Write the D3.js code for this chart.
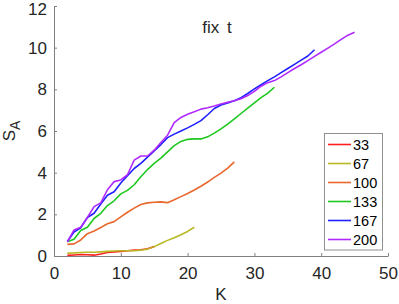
<!DOCTYPE html>
<html><head><meta charset="utf-8">
<script src="https://cdn.jsdelivr.net/npm/d3@7"></script>
<style>body{margin:0;background:#fff}svg{display:block}text{font-family:"Liberation Sans",Arial,Helvetica,sans-serif}</style>
</head><body><svg id="c" width="399" height="304"></svg>
<script>
const seriesNames = ["33","67","100","133","167","200"];
const colors = ["#ff1f1f","#b8b822","#e8682e","#1ec81e","#1f1fff","#b02aff"];
const xTicks = [0,10,20,30,40,50];
const yTicks = [0,2,4,6,8,10,12];
const k33 = [2,3,4,5,6,7,8,9,10,11,12,13,14,15];
const s33 = [0.03,0.05,0.07,0.06,0.04,0.1,0.17,0.2,0.22,0.25,0.28,0.3,0.35,0.45];
const k67 = [2,3,4,5,6,7,8,9,10,11,12,13,14,15,16,17,18,19,20,21];
const s67 = [0.14,0.15,0.17,0.18,0.18,0.2,0.22,0.24,0.25,0.25,0.25,0.28,0.33,0.45,0.6,0.75,0.88,1.02,1.18,1.38];
const k100 = [2,3,4,5,6,7,8,9,10,11,12,13,14,15,16,17,18,19,20,21,22,23,24,25,26,27];
const s100 = [0.56,0.58,0.77,1.07,1.2,1.37,1.55,1.65,1.88,2.1,2.3,2.47,2.55,2.58,2.6,2.56,2.7,2.85,3.0,3.17,3.35,3.55,3.77,3.98,4.22,4.52];
const k133 = [2,3,4,5,6,7,8,9,10,11,12,13,14,15,16,17,18,19,20,21,22,23,24,25,26,27,28,29,30,31,32,33];
const s133 = [0.68,0.8,1.22,1.38,1.8,2.05,2.42,2.65,2.98,3.15,3.42,3.8,4.15,4.45,4.7,5.0,5.3,5.5,5.6,5.62,5.62,5.72,5.9,6.1,6.33,6.58,6.84,7.1,7.35,7.6,7.82,8.1];
const k167 = [2,3,4,5,6,7,8,9,10,11,12,13,14,15,16,17,18,19,20,21,22,23,24,25,26,27,28,29,30,31,32,33,34,35,36,37,38,39];
const s167 = [0.7,1.15,1.35,1.85,2.05,2.5,2.92,3.08,3.5,3.85,4.2,4.45,4.75,5.05,5.35,5.68,5.85,6.0,6.15,6.32,6.5,6.78,7.08,7.25,7.35,7.45,7.6,7.8,8.02,8.22,8.42,8.6,8.8,9.0,9.2,9.4,9.6,9.9];
const k200 = [2,3,4,5,6,7,8,9,10,11,12,13,14,15,16,17,18,19,20,21,22,23,24,25,26,27,28,29,30,31,32,33,34,35,36,37,38,39,40,41,42,43,44,45];
const s200 = [0.68,1.25,1.38,1.85,2.37,2.55,3.18,3.57,3.65,3.9,4.6,4.8,4.8,5.08,5.45,5.8,6.4,6.65,6.8,6.92,7.05,7.12,7.2,7.3,7.38,7.45,7.55,7.7,7.9,8.15,8.32,8.42,8.6,8.8,9.0,9.18,9.38,9.58,9.78,9.98,10.18,10.4,10.6,10.74];
const kData = [k33,k67,k100,k133,k167,k200];
const sData = [s33,s67,s100,s133,s167,s200];

const svg = d3.select("#c");
const x = d3.scaleLinear().domain([0,50]).range([54,388]);
const y = d3.scaleLinear().domain([0,12]).range([256,6]);
const axisCol = "#808080", txtCol = "#262626";

const gx = svg.append("g").attr("transform","translate(0,256)")
  .call(d3.axisBottom(x).tickValues(xTicks).tickSizeInner(-3).tickSizeOuter(0).tickPadding(11));
const gy = svg.append("g").attr("transform","translate(54,0)")
  .call(d3.axisLeft(y).tickValues(yTicks).tickSizeInner(-3).tickSizeOuter(0).tickPadding(7));
[gx,gy].forEach(g=>{
  g.select(".domain").attr("stroke",axisCol).attr("stroke-width",1);
  g.selectAll(".tick line").attr("stroke",axisCol);
  g.selectAll(".tick text").attr("fill",txtCol).style("font-size","17px").style("font-family",'"Liberation Sans",Arial,sans-serif');
});
gy.selectAll(".tick text").filter(d=>d===12).attr("dy","0.47em");

const line = d3.line().x(d=>x(d[0])).y(d=>y(d[1])).curve(d3.curveLinear);
kData.forEach((ks,i)=>{
  svg.append("path").datum(ks.map((k,j)=>[k,sData[i][j]]))
    .attr("d",line).attr("fill","none").attr("stroke",colors[i])
    .attr("stroke-width",1.6).attr("stroke-linejoin","round");
});

svg.append("text").attr("x",217).attr("y",33).attr("text-anchor","middle")
  .attr("fill",txtCol).style("font-size","17px").attr("word-spacing","3px").text("fix t");

svg.append("text").attr("x",221).attr("y",300).attr("text-anchor","middle")
  .attr("fill",txtCol).style("font-size","17px").text("K");

const yl = svg.append("text").attr("transform","translate(15,131) rotate(-90)")
  .attr("text-anchor","middle").attr("fill",txtCol).style("font-size","17px");
yl.append("tspan").text("S");
yl.append("tspan").attr("dy",5).style("font-size","14px").text("A");

const lg = svg.append("g");
lg.append("rect").attr("x",324.5).attr("y",133.5).attr("width",58).attr("height",116.5)
  .attr("fill","#fff").attr("stroke","#909090").attr("stroke-width",1);
seriesNames.forEach((n,i)=>{
  const yy = 144.5 + i*19;
  lg.append("line").attr("x1",328).attr("x2",351).attr("y1",yy).attr("y2",yy)
    .attr("stroke",colors[i]).attr("stroke-width",1.6);
  lg.append("text").attr("x",353).attr("y",yy+5).attr("fill","#000")
    .style("font-size","14.5px").text(n);
});
</script></body></html>
